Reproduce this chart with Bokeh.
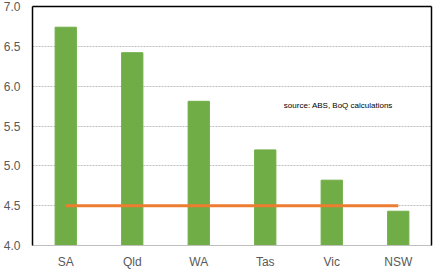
from bokeh.plotting import figure
from bokeh.models import LinearAxis, Range1d, Label, ColumnDataSource, FixedTicker, CustomJSTickFormatter
from bokeh.embed import file_html
from bokeh.resources import INLINE

states = ["SA", "Qld", "WA", "Tas", "Vic", "NSW"]
values = [6.74, 6.42, 5.81, 5.20, 4.82, 4.43]
average = [4.5, 4.5, 4.5, 4.5, 4.5, 4.5]
y_ticks = [4.0, 4.5, 5.0, 5.5, 6.0, 6.5, 7.0]

src = ColumnDataSource(dict(state=states, value=values, avg=average))

p = figure(width=445, height=275, x_range=states, y_range=Range1d(4.0, 7.0),
           output_backend="svg", toolbar_location=None,
           min_border_left=0, min_border_right=14, min_border_top=6, min_border_bottom=30)
p.outline_line_color = None
p.background_fill_color = "white"
p.border_fill_color = "white"

p.vbar(x="state", top="value", bottom=4.0, width=0.32, color="#70AD47", source=src)
p.line(x="state", y="avg", color="#ED7D31", line_width=3, source=src)

font = "Liberation Sans"
label_color = "#595959"
p.yaxis.ticker = FixedTicker(ticks=y_ticks)
p.yaxis.formatter = CustomJSTickFormatter(code="return tick.toFixed(1)")
p.yaxis.axis_line_color = "black"
p.yaxis.axis_line_width = 1.5
p.yaxis.major_tick_line_color = None
p.yaxis.minor_tick_line_color = None
p.yaxis.major_label_text_font = font
p.yaxis.major_label_text_font_size = "12px"
p.yaxis.major_label_text_color = label_color
p.yaxis.major_label_standoff = 6

p.xaxis.axis_line_color = "#BFBFBF"
p.xaxis.major_tick_line_color = None
p.xaxis.minor_tick_line_color = None
p.xaxis.major_label_text_font = font
p.xaxis.major_label_text_font_size = "12px"
p.xaxis.major_label_text_color = label_color
p.xaxis.major_label_standoff = 3

right = LinearAxis(ticker=FixedTicker(ticks=[]), axis_line_color="black", axis_line_width=1.5,
                   major_tick_line_color=None, minor_tick_line_color=None,
                   major_label_text_font_size="0px")
p.add_layout(right, "right")
top = LinearAxis(ticker=FixedTicker(ticks=[]), axis_line_color="black", axis_line_width=1.5,
                 major_tick_line_color=None, minor_tick_line_color=None,
                 major_label_text_font_size="0px")
p.add_layout(top, "above")

p.xgrid.grid_line_color = None
p.ygrid.ticker = FixedTicker(ticks=y_ticks)
p.ygrid.grid_line_color = "#BFBFBF"
p.ygrid.grid_line_dash = "2 1"
p.ygrid.grid_line_width = 1

p.add_layout(Label(x=3.78, y=5.76, text="source:  ABS, BoQ calculations",
                   text_font=font, text_font_size="8px", text_color="black",
                   text_baseline="middle"))

open("out.html", "w").write(file_html(p, INLINE))
